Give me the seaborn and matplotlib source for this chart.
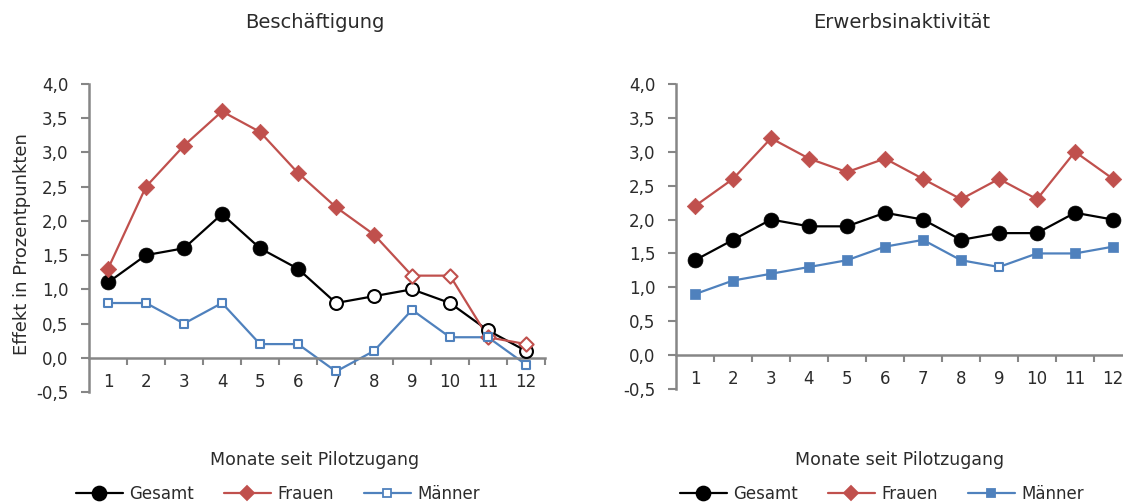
import numpy as np
import pandas as pd
import matplotlib
matplotlib.use("Agg")
import matplotlib.pyplot as plt
from matplotlib.lines import Line2D
from matplotlib.ticker import FuncFormatter, FixedLocator
import seaborn as sns

# ---------------- data ----------------
months = [1, 2, 3, 4, 5, 6, 7, 8, 9, 10, 11, 12]

# Beschäftigung
besch_gesamt = [1.1, 1.5, 1.6, 2.1, 1.6, 1.3, 0.8, 0.9, 1.0, 0.8, 0.4, 0.1]
besch_frauen = [1.3, 2.5, 3.1, 3.6, 3.3, 2.7, 2.2, 1.8, 1.2, 1.2, 0.3, 0.2]
besch_maenner = [0.8, 0.8, 0.5, 0.8, 0.2, 0.2, -0.2, 0.1, 0.7, 0.3, 0.3, -0.1]
# significant (filled marker) flags
besch_gesamt_sig = [1, 1, 1, 1, 1, 1, 0, 0, 0, 0, 0, 0]
besch_frauen_sig = [1, 1, 1, 1, 1, 1, 1, 1, 0, 0, 0, 0]
besch_maenner_sig = [0, 0, 0, 0, 0, 0, 0, 0, 0, 0, 0, 0]

# Erwerbsinaktivität
inakt_gesamt = [1.4, 1.7, 2.0, 1.9, 1.9, 2.1, 2.0, 1.7, 1.8, 1.8, 2.1, 2.0]
inakt_frauen = [2.2, 2.6, 3.2, 2.9, 2.7, 2.9, 2.6, 2.3, 2.6, 2.3, 3.0, 2.6]
inakt_maenner = [0.9, 1.1, 1.2, 1.3, 1.4, 1.6, 1.7, 1.4, 1.3, 1.5, 1.5, 1.6]
inakt_gesamt_sig = [1] * 12
inakt_frauen_sig = [1] * 12
inakt_maenner_sig = [1, 1, 1, 1, 1, 1, 1, 1, 0, 1, 1, 1]

series_names = ["Gesamt", "Frauen", "Männer"]
panel_titles = ["Beschäftigung", "Erwerbsinaktivität"]
x_label = "Monate seit Pilotzugang"
y_label = "Effekt in Prozentpunkten"
y_ticks = [-0.5, 0.0, 0.5, 1.0, 1.5, 2.0, 2.5, 3.0, 3.5, 4.0]

# ---------------- style ----------------
sns.set_style("white")
plt.rcParams["font.family"] = ["DejaVu Sans"]
TXT = "#2b2b2b"
AX = "#868686"
COLORS = {"Gesamt": "#000000", "Frauen": "#C0504D", "Männer": "#4F81BD"}
MARKERS = {"Gesamt": "o", "Frauen": "D", "Männer": "s"}
SIZES = {"Gesamt": 115, "Frauen": 70, "Männer": 45}
FS = 12

fig = plt.figure(figsize=(11.23, 5.04), dpi=100)
W, H = 1123, 504

def axes_px(x0, x1, ytop, ybot):
    return fig.add_axes([x0 / W, 1 - ybot / H, (x1 - x0) / W, (ybot - ytop) / H])

ax_l = axes_px(89, 545, 84, 392)
ax_r = axes_px(676, 1132, 84, 389)

panels = [
    (ax_l, [besch_gesamt, besch_frauen, besch_maenner],
     [besch_gesamt_sig, besch_frauen_sig, besch_maenner_sig]),
    (ax_r, [inakt_gesamt, inakt_frauen, inakt_maenner],
     [inakt_gesamt_sig, inakt_frauen_sig, inakt_maenner_sig]),
]

comma = FuncFormatter(lambda v, p: f"{v:.1f}".replace(".", ","))

for ax, vals, sigs in panels:
    for name, v, s in zip(series_names, vals, sigs):
        df = pd.DataFrame({"Monat": months, "Wert": v, "sig": s})
        c = COLORS[name]
        sns.lineplot(data=df, x="Monat", y="Wert", color=c, linewidth=1.6,
                     ax=ax, legend=False, zorder=2)
        filled = df[df["sig"] == 1]
        hollow = df[df["sig"] == 0]
        if len(filled):
            sns.scatterplot(data=filled, x="Monat", y="Wert", marker=MARKERS[name],
                            s=SIZES[name], color=c, edgecolor=c, linewidth=0.5,
                            ax=ax, legend=False, zorder=3)
        if len(hollow):
            sns.scatterplot(data=hollow, x="Monat", y="Wert", marker=MARKERS[name],
                            s=SIZES[name] * 0.75, facecolor="white", edgecolor=c,
                            linewidth=1.5, ax=ax, legend=False, zorder=3)
    ax.set_xlim(0.5, 12.5)
    ax.set_ylim(-0.5, 4.0)
    ax.set_xlabel("")
    ax.set_ylabel("")
    for sp in ["top", "right"]:
        ax.spines[sp].set_visible(False)
    ax.spines["left"].set_color(AX)
    ax.spines["left"].set_linewidth(1.8)
    ax.spines["bottom"].set_color(AX)
    ax.spines["bottom"].set_linewidth(1.8)
    ax.spines["bottom"].set_position(("data", 0))
    ax.yaxis.set_major_locator(FixedLocator(y_ticks))
    ax.yaxis.set_major_formatter(comma)
    ax.tick_params(axis="y", direction="out", length=6, width=1.5, color=AX,
                   labelsize=FS, labelcolor=TXT, pad=9, left=True)
    ax.set_xticks(months)
    ax.set_xticklabels([str(m) for m in months])
    ax.set_xticks(np.arange(1.5, 12.6, 1.0), minor=True)
    ax.tick_params(axis="x", which="major", length=0, labelsize=FS,
                   labelcolor=TXT, pad=11)
    ax.tick_params(axis="x", which="minor", direction="out", length=5,
                   width=1.5, color=AX, bottom=True)
    ax.grid(False)
    ax.patch.set_alpha(0)

ax_l.set_ylabel(y_label, fontsize=13, color=TXT)
ax_l.yaxis.set_label_coords((31 - 89) / 456, 0.48)

# titles and x labels
for cx, t in zip([315, 902], panel_titles):
    fig.text(cx / W, 1 - 22 / H, t, ha="center", va="center", fontsize=14, color=TXT)
for cx in [315, 900]:
    fig.text(cx / W, 1 - 460 / H, x_label, ha="center", va="center", fontsize=12.5, color=TXT)

# legends
def handles(maenner_filled):
    hs = []
    for name in series_names:
        c = COLORS[name]
        fc = c if (name != "Männer" or maenner_filled) else "white"
        ms = {"Gesamt": 10, "Frauen": 7, "Männer": 6}[name]
        hs.append(Line2D([0], [0], color=c, lw=1.6, marker=MARKERS[name],
                         markersize=ms, markerfacecolor=fc, markeredgecolor=c,
                         markeredgewidth=1.3))
    return hs

for cx, filled in [(278, False), (882, True)]:
    fig.legend(handles(filled), series_names, loc="center",
               bbox_to_anchor=(cx / W, 1 - 494 / H), ncol=3, frameon=False,
               fontsize=FS, handlelength=2.8, columnspacing=1.8,
               handletextpad=0.4, labelcolor=TXT, borderpad=0, borderaxespad=0)

fig.savefig("out.png", dpi=100)
